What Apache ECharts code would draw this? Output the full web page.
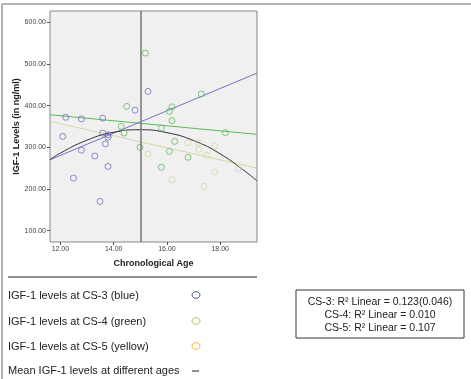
<!DOCTYPE html>
<html lang="en">
<head>
  <meta charset="utf-8">
  <title>IGF-1 levels vs chronological age</title>
  <style>
    html, body { margin: 0; padding: 0; background: #fff; }
    #chart { width: 471px; height: 379px; }
  </style>
</head>
<body>
  <div id="chart"></div>
  <script src="https://cdn.jsdelivr.net/npm/echarts@6/dist/echarts.min.js"></script>
  <script>
    // data: [age, IGF-1]
    var cs3Points = [[12.20, 372], [12.79, 368], [13.59, 370], [14.80, 389], [15.29, 434], [12.09, 326],
      [13.59, 334], [13.79, 330], [13.79, 324], [12.79, 293], [13.69, 308], [13.29, 279],
      [13.79, 254], [12.49, 226], [13.49, 170]];
    var cs4Points = [[15.19, 526], [14.49, 398], [17.29, 428], [16.19, 397], [16.09, 386], [14.28, 350],
      [14.39, 334], [16.19, 364], [15.79, 346], [18.19, 335], [14.99, 300], [16.29, 314],
      [16.09, 290], [16.79, 276], [15.79, 252]];
    var cs5Points = [[15.29, 284], [16.19, 222], [16.79, 311], [17.19, 311], [17.19, 295], [17.49, 281],
      [17.79, 303], [17.39, 206], [17.79, 241], [18.68, 248]];
    // fit lines (ends at the plot edges)
    var cs3Fit = [[11.61, 270], [19.38, 478]];
    var cs4Fit = [[11.61, 378], [19.38, 331]];
    var cs5Fit = [[11.61, 362], [19.38, 250]];
    // mean curve
    var meanCurve = [[11.61, 270], [12, 286], [13, 317], [14, 336], [15, 342], [16, 335],
      [17, 316], [18, 284], [19, 239], [19.38, 219]];
    var xTicks = [12, 14, 16, 18];
    var yTicks = [100, 200, 300, 400, 500, 600];
    var legendLabels = ['IGF-1 levels at CS-3 (blue)', 'IGF-1 levels at CS-4 (green)',
      'IGF-1 levels at CS-5 (yellow)', 'Mean IGF-1 levels at different ages'];
    var boxLines = ['CS-3: R\u00b2 Linear = 0.123(0.046)', 'CS-4: R\u00b2 Linear = 0.010',
      'CS-5: R\u00b2 Linear = 0.107'];

    var font = '"Liberation Sans", Arial, sans-serif';
    var chart = echarts.init(document.getElementById('chart'));

    function fitLine(data, color) {
      return {
        type: 'line', data: data, showSymbol: false, silent: true,
        lineStyle: { color: color, width: 1 }, z: 3
      };
    }
    function dots(data, color) {
      return {
        type: 'scatter', data: data, symbol: 'circle', symbolSize: 6,
        itemStyle: { color: 'transparent', borderColor: color, borderWidth: 1 }, z: 4
      };
    }

    // legend + text box as graphic elements
    var graphics = [
      { type: 'line', shape: { x1: 2, y1: 4, x2: 471, y2: 4 }, style: { stroke: '#999', lineWidth: 1.5 } },
      { type: 'line', shape: { x1: 2, y1: 4, x2: 2, y2: 379 }, style: { stroke: '#999', lineWidth: 1.5 } },
      { type: 'line', shape: { x1: 8, y1: 277, x2: 257, y2: 277 }, style: { stroke: '#222', lineWidth: 1 } },
      { type: 'rect', shape: { x: 296, y: 290, width: 168, height: 48 },
        style: { fill: '#fff', stroke: '#333', lineWidth: 1 } }
    ];
    var legendColors = ['#3a4f8f', '#9cc84a', '#f0b820'];
    var rowY = [296, 322, 347, 371];
    legendLabels.forEach(function (t, i) {
      graphics.push({ type: 'text', x: 8, y: rowY[i], style: {
        text: t, font: '11px ' + font, fill: '#222', verticalAlign: 'middle' } });
      if (i < 3) {
        graphics.push({ type: 'ellipse', shape: { cx: 196, cy: rowY[i] - 1, rx: 4, ry: 3.3 },
          style: { fill: 'none', stroke: legendColors[i], lineWidth: 1 } });
      } else {
        graphics.push({ type: 'line', shape: { x1: 192, y1: rowY[i], x2: 199, y2: rowY[i] },
          style: { stroke: '#222', lineWidth: 1 } });
      }
    });
    boxLines.forEach(function (t, i) {
      graphics.push({ type: 'text', x: 380, y: 302 + i * 13, style: {
        text: t, font: '10.5px ' + font, fill: '#222', align: 'center', verticalAlign: 'middle' } });
    });

    var option = {
      animation: false,
      backgroundColor: '#fff',
      grid: {
        left: 50, top: 11, width: 207, height: 231, show: true,
        backgroundColor: '#f0f0f0', borderColor: '#888', borderWidth: 1
      },
      xAxis: {
        type: 'value', min: 11.61, max: 19.38,
        name: 'Chronological Age', nameLocation: 'middle', nameGap: 17,
        nameTextStyle: { fontFamily: font, fontWeight: 'bold', fontSize: 9, color: '#222' },
        axisLine: { show: false },
        splitLine: { show: false },
        axisTick: { show: true, length: 3, customValues: xTicks, lineStyle: { color: '#555' } },
        axisLabel: { customValues: xTicks, fontFamily: font, fontSize: 7, color: '#444', margin: 4,
          formatter: function (v) { return v.toFixed(2); } }
      },
      yAxis: {
        type: 'value', min: 72.6, max: 627,
        name: 'IGF-1 Levels (in ng/ml)', nameLocation: 'middle', nameGap: 29, nameMoveOverlap: false,
        nameTextStyle: { fontFamily: font, fontWeight: 'bold', fontSize: 9, color: '#222' },
        axisLine: { show: false },
        splitLine: { show: false },
        axisTick: { show: true, length: 3, customValues: yTicks, lineStyle: { color: '#555' } },
        axisLabel: { customValues: yTicks, fontFamily: font, fontSize: 7, color: '#444', margin: 4,
          formatter: function (v) { return v.toFixed(2); } }
      },
      series: [
        dots(cs5Points, '#d6d6a0'),
        dots(cs4Points, '#62b862'),
        dots(cs3Points, '#6f6fbf'),
        fitLine(cs5Fit, '#d8d8a4'),
        fitLine(cs4Fit, '#5cbb5c'),
        fitLine(cs3Fit, '#7272c8'),
        {
          type: 'line', data: meanCurve, smooth: true, showSymbol: false, silent: true,
          lineStyle: { color: '#333', width: 1 }, z: 3,
          markLine: {
            silent: true, symbol: 'none', label: { show: false },
            lineStyle: { color: '#777', width: 1.5, type: 'solid' },
            data: [{ xAxis: 15 }]
          }
        }
      ],
      graphic: graphics
    };
    chart.setOption(option);
  </script>
</body>
</html>
